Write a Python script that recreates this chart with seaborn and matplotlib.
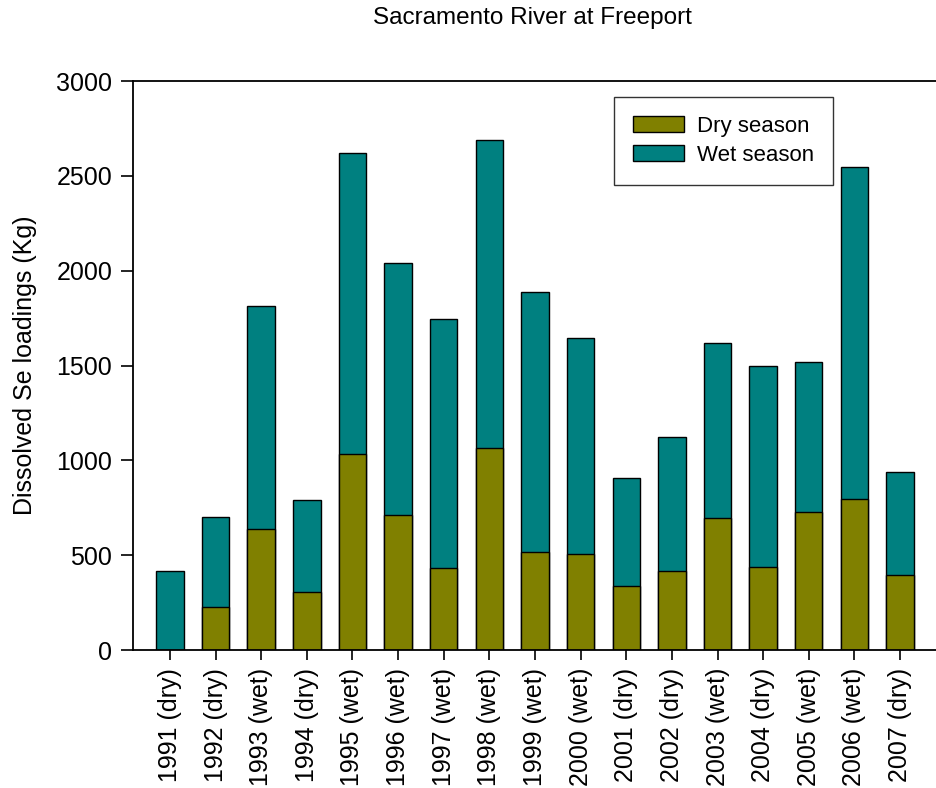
import matplotlib
matplotlib.use("Agg")
import matplotlib.pyplot as plt
from matplotlib.patches import Patch
import pandas as pd
import seaborn as sns

# Seasonal dissolved selenium loads, Sacramento River at Freeport
years = ["1991 (dry)", "1992 (dry)", "1993 (wet)", "1994 (dry)", "1995 (wet)",
         "1996 (wet)", "1997 (wet)", "1998 (wet)", "1999 (wet)", "2000 (wet)",
         "2001 (dry)", "2002 (dry)", "2003 (wet)", "2004 (dry)", "2005 (wet)",
         "2006 (wet)", "2007 (dry)"]
dry_season = [0, 228, 640, 304, 1033, 710, 435, 1067, 517, 504,
              338, 419, 695, 440, 726, 798, 395]
wet_season = [417, 474, 1176, 485, 1586, 1328, 1312, 1621, 1369, 1140,
              571, 702, 926, 1056, 795, 1746, 542]

df = pd.DataFrame({"year": years, "dry": dry_season, "wet": wet_season})
df["total"] = df["dry"] + df["wet"]

DRY_COLOR = "#808000"
WET_COLOR = "#008080"

sns.set_theme(style="white")
plt.rcParams["font.family"] = ["Liberation Sans", "DejaVu Sans"]
plt.rcParams["text.color"] = "black"
plt.rcParams["axes.labelcolor"] = "black"
plt.rcParams["xtick.color"] = "black"
plt.rcParams["ytick.color"] = "black"

fig = plt.figure(figsize=(9.37, 7.88), dpi=100)
ax = fig.add_axes([0.1419, 0.1751, 0.8581, 0.7221])

# Wet-season load stacked on top of the dry-season load
sns.barplot(data=df, x="year", y="total", color=WET_COLOR, saturation=1,
            width=0.6, edgecolor="black", linewidth=1.0, ax=ax)
sns.barplot(data=df, x="year", y="dry", color=DRY_COLOR, saturation=1,
            width=0.6, edgecolor="black", linewidth=1.0, ax=ax)

ax.set_xlim(-0.81, len(years) - 1 + 0.81)
ax.set_ylim(0, 3000)
ax.set_yticks([0, 500, 1000, 1500, 2000, 2500, 3000])

ax.set_xlabel("")
ax.set_ylabel("Dissolved Se loadings (Kg)", fontsize=18, labelpad=14)
ax.tick_params(axis="x", rotation=90, labelsize=18, direction="out",
               length=7, width=1.2, bottom=True, pad=6)
ax.tick_params(axis="y", labelsize=18, direction="out",
               length=9, width=1.2, left=True, pad=6)

for side in ["left", "bottom", "top"]:
    ax.spines[side].set_color("black")
    ax.spines[side].set_linewidth(1.3)
ax.spines["right"].set_visible(False)

fig.text(0.568, 0.977, "Sacramento River at Freeport", ha="center",
         va="center", fontsize=17.5)

handles = [Patch(facecolor=DRY_COLOR, edgecolor="black", label="Dry season"),
           Patch(facecolor=WET_COLOR, edgecolor="black", label="Wet season")]
leg = ax.legend(handles=handles, loc="upper left",
                bbox_to_anchor=(0.598, 0.972), fontsize=16, frameon=True,
                fancybox=False, edgecolor="black", handlelength=2.3,
                handleheight=0.72, handletextpad=0.6, borderpad=0.85,
                labelspacing=0.36, borderaxespad=0)
leg.get_frame().set_linewidth(1.0)

fig.savefig("out.png", dpi=100)
